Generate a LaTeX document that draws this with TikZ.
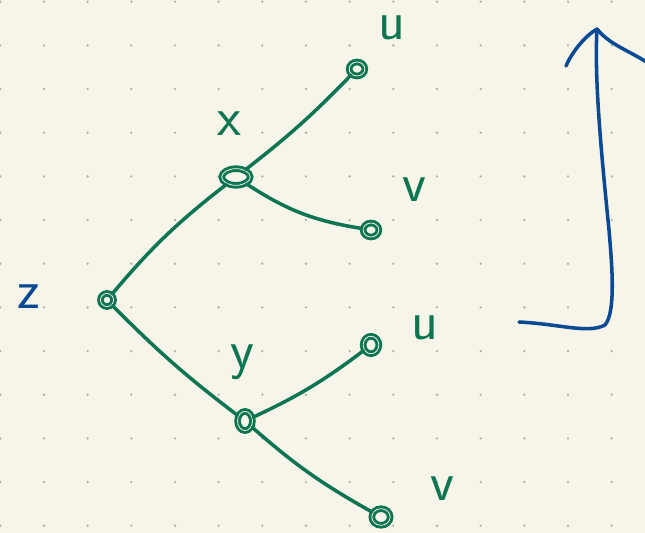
\documentclass[tikz,border=0pt]{standalone}
\usepackage{xcolor}
\usepackage{tikz}
\usetikzlibrary{arrows.meta,shapes.geometric}
\definecolor{paper}{RGB}{247,245,234}
\definecolor{griddot}{RGB}{178,176,168}
\definecolor{ink}{RGB}{14,117,82}
\definecolor{pen}{RGB}{10,74,148}
\tikzset{
  vert/.style   = {ellipse, draw=ink, line width=1.9pt, double=paper,
                   double distance=0.5pt, minimum width=3.6mm, minimum height=3.2mm,
                   inner sep=0pt},
  lbl/.style    = {text=ink, inner sep=0pt,
                   font=\sffamily\fontsize{36}{36}\selectfont},
  bluelbl/.style = {lbl, text=pen},
  branch/.style = {draw=ink, line width=2.3pt, line cap=round},
  penline/.style = {draw=pen, line width=2.3pt, line cap=round, line join=round},
}

\begin{document}
\begin{tikzpicture}[x=0.22899mm, y=-0.22899mm]
    % page and dotted grid
    \fill[paper] (0,0) rectangle (645,533);
    \useasboundingbox (0,0) rectangle (645,533);
    \foreach \i in {0,...,14}\foreach \j in {0,...,12}
      \fill[griddot] (\i*43.67+0.3, \j*43.67+1.7) circle[radius=1.3];

    % tree
    \node[vert, minimum width=3mm, minimum height=3mm] (z) at (107,300) {};
    \node[vert, minimum width=6.5mm, minimum height=3.8mm] (x) at (236,177) {};
    \node[vert, minimum width=3.4mm, minimum height=4.4mm] (y) at (245,421) {};
    \node[vert] (ua) at (357,69) {};
    \node[vert] (va) at (371,230) {};
    \node[vert, minimum height=4mm] (ub) at (371,345) {};
    \node[vert, minimum width=4.2mm, minimum height=3.8mm] (vb) at (381,517) {};

    \node[bluelbl] (zl) at (29,297) {z};
    \node[lbl] (xl) at (229,124) {x};
    \node[lbl] (yl) at (242,362) {y};
    \node[lbl] (ual) at (392,28) {u};
    \node[lbl] (val) at (414,190) {v};
    \node[lbl] (ubl) at (425,328) {u};
    \node[lbl] (vbl) at (442,489) {v};

    \draw[branch] (z) to[bend left=6] (x);
    \draw[branch] (x) to[bend right=4] (ua);
    \draw[branch] (x) to[bend right=12] (va);
    \draw[branch] (z) to[bend right=4] (y);
    \draw[branch] (y) to[bend right=6] (ub);
    \draw[branch] (y) to[bend right=6] (vb);

    % arrow
    \coordinate (tail) at (519,322);
    \coordinate (tip) at (597,29);
    \coordinate (lbarb) at (566,66);
    \coordinate (rbarb) at (648,63);
    \draw[penline] (tail) .. controls (560,324) and (588,334) .. (605,325)
          .. controls (616,312) and (612,265) .. (609,230)
          .. controls (602,160) and (594,80) .. (tip);
    \draw[penline] (lbarb) .. controls (572,52) and (585,36) .. (tip)
          .. controls (610,45) and (628,50) .. (rbarb);
  \end{tikzpicture}
\end{document}
